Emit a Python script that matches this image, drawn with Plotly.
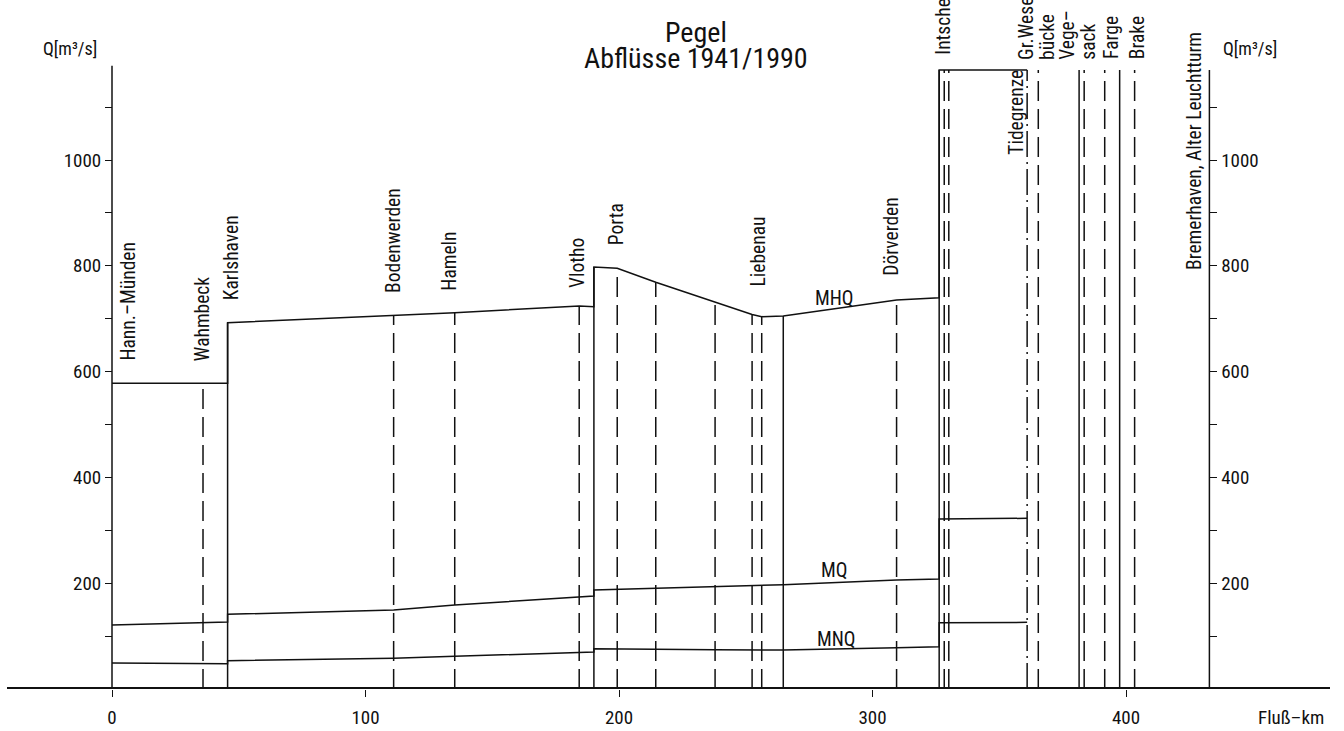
import plotly.graph_objects as go

FONT = "Liberation Sans Narrow, Arial Narrow, Roboto Condensed, Liberation Sans, sans-serif"
INK = "#111111"

# ---------------- data (Fluß-km, Q in m³/s) ----------------
mhq_km = [0, 45.6, 45.6, 111.1, 135.2, 184.3, 190.1, 190.1, 199.3, 214.5, 237.9, 252.5, 256.3, 264.8, 309.5, 326.3, 326.3, 361.0]
mhq_q  = [578, 578, 692.4, 705.7, 711.3, 724, 722.7, 797.7, 795.3, 768.8, 732, 708, 703.8, 705, 735.3, 739.7, 1170, 1170]

mq_km = [0, 45.6, 45.6, 111.1, 135.2, 184.3, 190.1, 190.1, 199.3, 214.5, 237.9, 264.8, 309.5, 326.3, 326.3, 361.0]
mq_q  = [121, 126.7, 141.2, 149.3, 158.8, 174.5, 175.8, 187.1, 188.4, 191.5, 194.1, 197.2, 206, 207.9, 321.4, 322.7]

mnq_km = [0, 45.6, 45.6, 111.1, 135.2, 184.3, 190.1, 190.1, 199.3, 214.5, 237.9, 256.3, 264.8, 309.5, 326.3, 326.3, 361.0]
mnq_q  = [49.1, 47.8, 53.5, 58, 61.8, 68.6, 70, 76.2, 75.6, 75, 74.3, 73.7, 73.7, 78.1, 80, 125.3, 126]

# gauge / inflow vertical lines: position, top value, line kind
line_km   = [0, 35.9, 45.6, 111.1, 135.2, 184.3, 190.1, 199.3, 214.5, 237.9, 252.5, 256.3, 264.8, 309.5,
             326.3, 328.3, 330.1, 361.0, 365.4, 381.5, 383.5, 391.6, 397.5, 403.4, 432.9]
line_top  = [1178, 578, 692.4, 705.7, 711.3, 724, 797.7, 795.3, 768.8, 732, 708, 703.8, 705, 735.3,
             1170, 1170, 1170, 1170, 1170, 1170, 1170, 1170, 1170, 1170, 1170]
line_kind = ["solid", "dash", "solid", "dash", "dash", "dash", "solid", "dash", "dash", "dash", "dash", "dash", "solid", "dash",
             "solid", "dash", "dash", "dashdot", "dash", "solid", "dash", "dash", "solid", "dash", "solid"]

# gauge names (rotated labels): text, km, Q at label bottom
gauge_names = ["Hann.–Münden", "Wahmbeck", "Karlshaven", "Bodenwerden", "Hameln", "Vlotho", "Porta",
               "Liebenau", "Dörverden", "Intschede", "Gr.Weser–<br>bücke", "Vege–<br>sack", "Farge", "Brake",
               "Tidegrenze", "Bremerhaven, Alter Leuchtturm"]
gauge_label_km = [6.7, 35.8, 47.2, 111.0, 133.0, 183.8, 199.0, 255.0, 307.6, 327.9, 364.8, 381.3, 394.2, 404.6, 356.7, 427.2]
gauge_label_q  = [618, 616, 731.6, 744.8, 748.6, 754.3, 836, 758, 777, 1194.7, 1186, 1186, 1187, 1187, 1005.7, 788.3]

series_names = ["MHQ", "MQ", "MNQ"]
series_label_km = [285.2, 284.8, 285.9]
series_label_q = [739, 223.6, 94.5]

x_ticks = [0, 100, 200, 300, 400]
y_tickvals = [100, 200, 300, 400, 500, 600, 700, 800, 900, 1000, 1100]
y_ticktext = ["", "200", "", "400", "", "600", "", "800", "", "1000", ""]

title_lines = ["Pegel", "Abflüsse 1941/1990"]
x_label = "Fluß–km"
y_label = "Q[m³/s]"

# ---------------- figure ----------------
W, H = 1344, 731
X0_PX, PX_PER_KM = 112, 2.535
BASE_PX, PX_PER_Q = 689, 0.529
x_range = [-X0_PX / PX_PER_KM, (W - X0_PX) / PX_PER_KM]
y_range = [0, BASE_PX / PX_PER_Q]
LINE_GAP_PX = 21  # spacing between the two lines of a wrapped rotated label


def py(pixel_y):
    """pixel row -> paper fraction of the plot area (which spans rows 0..BASE_PX)"""
    return (BASE_PX - pixel_y) / BASE_PX


fig = go.Figure()

dash_map = {"solid": "solid", "dash": "20px,8px", "dashdot": "26px,5px,2px,5px"}
for k, top, kind in zip(line_km, line_top, line_kind):
    fig.add_trace(go.Scatter(x=[k, k], y=[0, top], mode="lines",
                             line=dict(color=INK, width=1.5, dash=dash_map[kind]),
                             hoverinfo="skip", showlegend=False))

for xs, ys in [(mhq_km, mhq_q), (mq_km, mq_q), (mnq_km, mnq_q)]:
    fig.add_trace(go.Scatter(x=xs, y=ys, mode="lines",
                             line=dict(color=INK, width=1.5),
                             hoverinfo="skip", showlegend=False))

# thick base line (Q = 0)
fig.add_trace(go.Scatter(x=[x_range[0] + 7 / PX_PER_KM, x_range[1] - 14 / PX_PER_KM], y=[0, 0], mode="lines",
                         line=dict(color=INK, width=4), hoverinfo="skip", showlegend=False, cliponaxis=False))

# right axis dummy trace
fig.add_trace(go.Scatter(x=[None], y=[None], yaxis="y2", showlegend=False))

LBL = 19.5
ann = []
for t, k, q in zip(gauge_names, gauge_label_km, gauge_label_q):
    parts = t.split("<br>")
    n = len(parts)
    for i, part in enumerate(parts):
        shift_km = (i - (n - 1) / 2) * LINE_GAP_PX / PX_PER_KM
        ann.append(dict(x=k + shift_km, y=q, xref="x", yref="y", text=part, textangle=-90, showarrow=False,
                        xanchor="center", yanchor="bottom",
                        font=dict(family=FONT, size=LBL, color=INK)))
for t, k, q in zip(series_names, series_label_km, series_label_q):
    ann.append(dict(x=k, y=q, xref="x", yref="y", text=t, showarrow=False,
                    xanchor="center", yanchor="middle",
                    font=dict(family=FONT, size=LBL, color=INK)))
ann.append(dict(x=70 / W, y=py(49), xref="paper", yref="paper", text=y_label, showarrow=False,
                xanchor="center", yanchor="middle", font=dict(family=FONT, size=18, color=INK)))
ann.append(dict(x=1250 / W, y=py(49), xref="paper", yref="paper", text=y_label, showarrow=False,
                xanchor="center", yanchor="middle", font=dict(family=FONT, size=18, color=INK)))
ann.append(dict(x=1291 / W, y=py(717), xref="paper", yref="paper", text=x_label, showarrow=False,
                xanchor="center", yanchor="middle", font=dict(family=FONT, size=19, color=INK)))
ann.append(dict(x=696 / W, y=py(33), xref="paper", yref="paper", text=title_lines[0], showarrow=False,
                xanchor="center", yanchor="middle", font=dict(family=FONT, size=28, color=INK)))
ann.append(dict(x=696 / W, y=py(59), xref="paper", yref="paper", text=title_lines[1], showarrow=False,
                xanchor="center", yanchor="middle", font=dict(family=FONT, size=28, color=INK)))

fig.update_layout(
    width=W, height=H,
    margin=dict(l=0, r=0, t=0, b=H - BASE_PX),
    paper_bgcolor="white", plot_bgcolor="white",
    font=dict(family=FONT, size=19, color=INK),
    showlegend=False,
    annotations=ann,
    xaxis=dict(range=x_range, tickvals=x_ticks, ticks="outside", ticklen=7, tickwidth=1.3, tickcolor=INK,
               showgrid=False, zeroline=False, showline=False, fixedrange=True, ticklabelstandoff=4,
               tickfont=dict(family=FONT, size=19, color=INK)),
    yaxis=dict(range=y_range, tickvals=y_tickvals, ticktext=y_ticktext, ticks="outside", ticklen=7,
               tickwidth=1.3, tickcolor=INK, showgrid=False, zeroline=False, showline=False,
               anchor="free", position=X0_PX / W, side="left", fixedrange=True,
               tickfont=dict(family=FONT, size=19, color=INK)),
    yaxis2=dict(range=y_range, tickvals=y_tickvals, ticktext=y_ticktext, ticks="outside", ticklen=7,
                tickwidth=1.3, tickcolor=INK, showgrid=False, zeroline=False, showline=False,
                anchor="free", overlaying="y", position=(X0_PX + 432.9 * PX_PER_KM) / W, side="right",
                fixedrange=True, tickfont=dict(family=FONT, size=19, color=INK)),
)

fig.write_html("out.html")
